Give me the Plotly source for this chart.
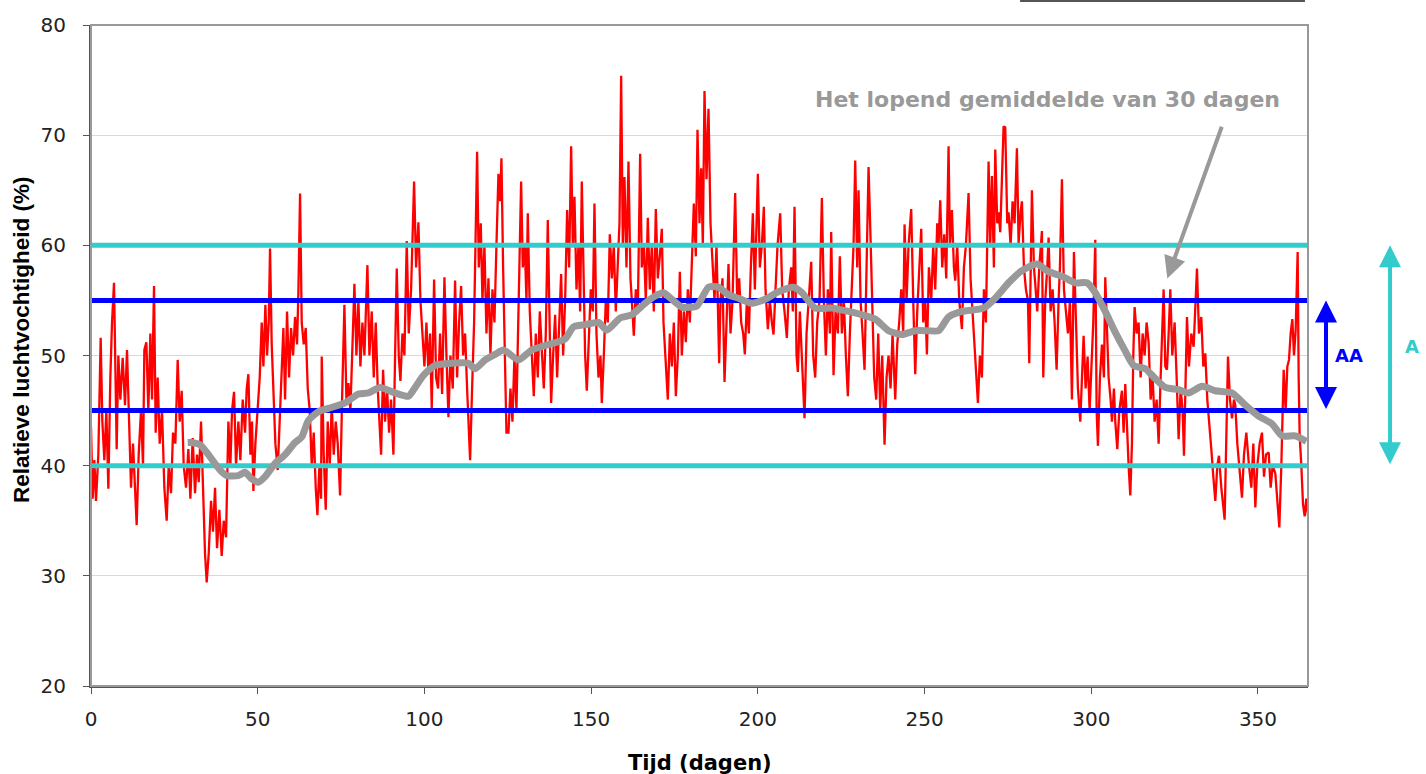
import plotly.graph_objects as go

# ---------------- data ----------------
red_days = [0, 0.5, 1, 1.5, 2.2, 2.9, 3.4, 4, 4.6, 5.2, 5.8, 6.3, 6.9, 7.3, 7.7, 8.2, 8.8, 9.5, 10.2, 10.8,
            11.4, 12, 12.6, 13.2, 13.7, 14.3, 15, 15.6, 16, 16.6, 17.2, 17.8, 18.3, 18.9, 19.4, 20, 20.6, 21.3,
            22, 22.7, 23.3, 24, 24.6, 25.3, 26, 26.6, 27.2, 27.8, 28.5, 29.2, 29.8, 30.5, 31.2, 31.8, 32.3, 33,
            33.6, 34.2, 34.7, 35.3, 36, 36.6, 37.2, 37.8, 38.5, 39.2, 39.8, 40.5, 41.2, 41.8, 42.3, 42.9, 43.5,
            44.2, 44.8, 45.5, 46.2, 46.7, 47.2, 47.8, 48.3, 48.7, 49.3, 50, 50.6, 51.2, 51.7, 52.3, 52.8, 53.3,
            53.7, 54.2, 54.8, 55.3, 56, 56.6, 57.2, 57.7, 58.2, 58.8, 59.4, 60, 60.6, 61.2, 61.8, 62.2, 62.7,
            63.2, 63.8, 64.4, 65, 65.6, 66.2, 66.8, 67.4, 67.9, 68.5, 69, 69.2, 69.8, 70.4, 71, 71.6, 72.2, 72.8,
            73.4, 74, 74.7, 75.3, 76, 76.6, 77.2, 77.8, 78.4, 79, 79.6, 80.2, 80.8, 81.4, 82, 82.9, 83.5, 84.2,
            84.8, 85.4, 86, 86.5, 87, 87.6, 88.2, 88.8, 89.4, 90, 90.7, 91.2, 91.7, 92.3, 92.8, 93.4, 94, 94.7,
            95.3, 96, 96.9, 97.5, 98.2, 98.8, 99.4, 100, 100.6, 101.2, 101.7, 102.2, 102.9, 103.5, 104.1, 104.7,
            105.3, 106, 106.6, 107.2, 107.8, 108.5, 109.2, 109.8, 110.4, 111, 111.6, 112.2, 112.8, 113.7, 114.3,
            114.9, 115.8, 116.3, 116.9, 117.4, 118, 118.6, 119.2, 119.8, 120.4, 121, 121.6, 122.2, 122.7, 123.1,
            123.6, 124.2, 124.6, 125.2, 125.8, 126.4, 127, 127.6, 128.2, 129, 129.5, 130.1, 130.6, 131, 131.6,
            132.2, 132.8, 133.4, 134, 134.6, 135.2, 135.8, 136.4, 137, 137.6, 138, 138.6, 139.2, 139.8, 140.4,
            141, 141.6, 142.2, 142.8, 143.4, 144, 144.5, 145, 145.6, 146.2, 146.7, 147.2, 147.8, 148.2, 148.7,
            149.3, 149.9, 150.5, 151, 151.6, 152.2, 152.8, 153.2, 153.8, 154.4, 155, 155.6, 156.2, 156.8, 157.4,
            158, 158.5, 159, 159.5, 160, 160.6, 161.2, 161.8, 162.2, 162.8, 163.4, 164, 164.7, 165.2, 165.8,
            166.4, 167, 167.6, 168.2, 168.8, 169.4, 170, 170.6, 171.2, 171.7, 172.2, 173, 173.6, 174.2, 174.8,
            175.4, 176, 176.6, 177.2, 177.8, 178.4, 179, 179.6, 180.2, 180.8, 181.4, 181.9, 182.5, 183, 183.5,
            184, 184.6, 185.2, 185.8, 186.4, 187, 187.6, 188.4, 188.8, 189.4, 190, 190.6, 191.2, 191.8, 192.4,
            193.2, 193.8, 194.4, 195, 195.6, 196.1, 196.7, 197.3, 197.9, 198.5, 199.1, 200, 200.6, 201.2, 201.8,
            202.3, 203, 203.6, 204.2, 204.7, 205.3, 205.9, 206.7, 207.3, 208, 208.7, 209.3, 210, 210.5, 211,
            211.6, 212, 212.6, 213.2, 214, 214.6, 215.2, 216, 216.6, 217.2, 217.8, 218.5, 219.2, 219.8, 220.4,
            221, 221.6, 222, 222.7, 223.3, 224, 224.6, 225.2, 225.8, 226.4, 227, 227.6, 228.2, 228.7, 229.2,
            229.8, 230.2, 230.8, 231.4, 232, 232.6, 233.2, 233.8, 234.3, 234.9, 235.5, 236.1, 236.7, 237.3, 238,
            238.6, 239.2, 239.8, 240.4, 241.2, 241.8, 242.4, 243, 243.6, 244, 244.6, 245.2, 246, 246.6, 247.2,
            247.8, 248.4, 249, 249.6, 250.2, 250.7, 251.3, 252, 252.6, 253.2, 253.8, 254.2, 254.7, 255.3, 255.9,
            256.5, 257.2, 257.6, 258.2, 258.8, 259.2, 259.8, 260.4, 261.2, 261.8, 262.4, 263.2, 263.8, 264.2,
            264.8, 265.4, 266, 266.6, 267.2, 267.8, 268.4, 269.2, 269.7, 270.2, 270.8, 271.2, 271.8, 272.2,
            272.7, 273.2, 273.7, 274.2, 274.8, 275.2, 275.8, 276.4, 277, 277.7, 278.2, 278.8, 279.2, 279.8,
            280.4, 281, 281.4, 282.2, 282.8, 283.2, 283.8, 284.4, 285.2, 285.6, 286.2, 286.8, 287.2, 287.8,
            288.4, 289, 289.6, 290.2, 290.6, 291.2, 291.8, 292.4, 293, 293.6, 294.2, 294.8, 295.4, 296, 296.7,
            297.2, 297.7, 298.3, 298.9, 299.5, 300.1, 300.6, 301.2, 301.6, 302, 302.6, 303.2, 303.8, 304.2,
            304.8, 305.2, 305.8, 306.2, 306.8, 307.2, 307.8, 308.4, 309.2, 309.7, 310.2, 310.8, 311.2, 311.7,
            312.2, 312.6, 313, 313.6, 314.2, 314.8, 315.4, 316, 316.6, 317.2, 317.8, 318.4, 319, 319.6, 320.2,
            320.8, 321.7, 322.2, 322.7, 323.2, 323.7, 324.3, 325, 325.6, 326.2, 326.8, 327.4, 327.8, 328.4,
            328.7, 329.3, 330, 330.7, 331.2, 331.7, 332.3, 333, 333.6, 334.2, 334.8, 335.4, 336, 336.6, 337.2,
            337.8, 338.3, 339, 340, 340.6, 341, 341.6, 342.2, 342.8, 343.2, 343.8, 344.4, 345.2, 345.8, 346.5,
            347.3, 348, 348.6, 349.2, 349.8, 350.5, 351.2, 351.8, 352.4, 353.2, 353.8, 354.4, 355.2, 355.8,
            356.4, 357, 357.7, 358.3, 358.8, 359.3, 359.8, 360.3, 360.8, 361.3, 361.9, 362.2, 362.5, 363, 363.5,
            364, 364.5, 365]
red_rh = [43.5, 37, 40.5, 36.8, 41, 51.6, 44, 40.5, 45, 37.9, 48, 53, 56.6, 47, 41.5, 50, 46, 49.8, 45.5, 50.5,
          44, 38, 42, 37, 34.6, 41, 45, 40, 50.5, 51.2, 45, 52, 46, 56.3, 43, 48, 42, 45,
          38, 35, 40, 37.5, 43, 42, 49.6, 44, 46.8, 40, 38, 41.5, 37, 42.5, 37.5, 41, 38.5, 44,
          37, 32, 29.4, 32, 36.8, 34, 38, 32.5, 36, 31.8, 35, 33.5, 44, 40, 45, 46.7, 40,
          44, 40.5, 46, 43, 47, 48.3, 41, 44, 37.7, 42, 45, 48, 53, 49, 54.6, 50, 53,
          59.7, 51, 45, 42, 39.6, 44, 50, 52.5, 46, 54, 48, 52.5, 50, 53.5, 51, 55.8, 64.7,
          53, 51, 52.5, 47, 45, 40, 43, 38, 35.5, 40, 37, 49.9, 41, 36, 44, 40, 45.5, 41,
          44, 42, 37.3, 46, 54.6, 46, 47.5, 45, 51, 56.5, 50, 55, 49, 53, 50, 58.2, 50, 54,
          48, 53, 47, 44, 41, 48.7, 44, 47, 43, 46, 41, 50, 57.9, 50, 47.7, 52, 50, 60.4,
          52, 56, 65.8, 58, 62.1, 55, 52, 49, 53, 48.5, 52, 45.2, 56.9, 48, 47, 52,
          46.5, 57.1, 50, 44.4, 50, 47, 56.8, 48, 53, 56.3, 50, 52, 47, 40.5, 47,
          53, 68.5, 58, 62, 55, 60, 52, 57, 50, 56, 53, 60, 66.5, 64, 67.9,
          58, 50, 43, 43, 47, 44, 50, 45, 54, 65.8, 58, 60, 55, 62.9, 54,
          50, 46.3, 52, 48, 54, 50, 47, 52, 62.3, 52, 45.7, 50, 53.7, 48, 52,
          57.4, 50, 55, 63.2, 58, 69, 60, 64.4, 56, 60, 54, 65.8, 55, 50, 46.8,
          52, 56, 54, 63.8, 52, 48, 50, 45.7, 50, 55, 53, 61, 57, 60, 54,
          58, 62, 75.4, 60, 66.2, 58, 67.6, 57, 55, 51.8, 56, 54, 68.3, 58, 60,
          55, 62.5, 56, 60, 54, 63.3, 57, 59, 61.5, 53, 50, 46, 52, 49, 53,
          46.3, 50, 57.6, 50, 54, 51.2, 56, 53, 58, 63.8, 59, 70.5, 62, 67, 60,
          74, 66, 72.4, 62, 58, 55, 60, 49.3, 55, 57, 47.6, 53, 58.3, 52, 55,
          64.75, 55, 57, 53, 52, 50.1, 55, 52, 58, 62.9, 56, 66.5, 58, 60, 63.5,
          56, 52.4, 55, 53, 51.9, 56, 60, 62.9, 56, 54, 51.6, 56, 58, 54, 63.5,
          50, 48.5, 54, 50, 44.3, 52, 55, 58.5, 50, 48, 53, 55, 64.3, 55, 50,
          56, 52, 61.2, 48.2, 54, 52, 59, 52, 55, 50, 46.3, 52, 56, 60, 67.7,
          58, 65, 55, 52, 48.7, 58, 67.1, 60.6, 55, 48, 46, 52, 45, 50, 41.9,
          48, 50, 47, 52, 46, 51, 53, 56, 52, 61.9, 55, 60, 63.3, 55, 48.3,
          54, 58, 61.5, 53, 55, 50.1, 58, 55, 60, 56, 62, 60, 64.1, 58, 61,
          57, 69, 59.9, 63.2, 58, 56.8, 60, 55, 52.4, 58, 60, 64.75, 57, 55,
          52, 48, 45.7, 50, 48, 56, 53, 67.6, 60, 66.3, 58, 68.7, 62, 63,
          61.2, 66, 70.8, 70.7, 62, 63, 60, 64, 62, 68.8, 60.2, 63, 64, 58,
          56, 55, 49.3, 65, 58, 56.5, 54, 58, 61.3, 48, 55, 58, 60.7, 54,
          56, 53, 48.7, 55, 58, 66, 56, 54, 52, 55, 46, 59.4, 52, 47, 44,
          48, 51.8, 47, 49.9, 45, 50, 53, 60.5, 45, 41.8, 48, 51, 48, 57.1,
          52, 48, 46, 44, 47, 44, 41.5, 45, 46.8, 43, 47.4, 42, 40, 37.3,
          42, 50, 54.4, 52, 53, 48, 52, 50, 53, 51.2, 46, 48, 44, 46, 42,
          48, 56, 49, 48.7, 52, 56, 50, 53, 48, 42.4, 47, 45, 40.9, 48,
          53.5, 49, 52, 50.8, 54, 57.9, 52, 53.5, 49, 50.2, 46, 44, 41.5, 39, 36.8,
          40, 40.9, 38, 35.1, 44, 49.9, 46, 44.3, 46, 45.5, 42, 40, 37.1, 41, 43,
          40, 38, 42, 36.2, 40, 42, 43, 39, 41, 41.2, 38, 40, 39.3, 37,
          34.4, 40, 48.7, 45, 49, 49.6, 52, 53.3, 50, 52.3, 59.4, 48, 42.7, 40, 36.5,
          35.4, 37, 35.5]

ma_days = [29, 30, 32.7, 35.7, 38.7, 40.7, 44.2, 46.2, 48.2, 50.2, 52.2, 55.2, 58.2, 61.2, 63.2, 65.2, 68.2,
           71.2, 76.2, 80.2, 83.2, 86.7, 91.2, 95.2, 97.2, 99.7, 103.2, 108.2, 113.2, 115.2, 118.2, 121.2,
           123.7, 128.2, 132.2, 137.2, 142.2, 144.7, 148.2, 152.2, 154.7, 158.7, 162.2, 166.2, 169.2, 171.7,
           174.2, 177.2, 181.7, 185.2, 188.2, 191.2, 194.2, 198.2, 202.2, 206.2, 210.7, 213.2, 217.2, 222.2,
           227.2, 231.2, 235.2, 239.2, 243.2, 247.2, 251.2, 254.2, 257.2, 261.2, 267.7, 271.2, 275.2, 279.2,
           283.7, 287.2, 291.2, 295.2, 298.7, 301.2, 304.2, 307.2, 310.2, 312.7, 316.2, 319.2, 322.2, 326.2,
           329.2, 333.2, 337.2, 342.2, 346.2, 350.2, 354.2, 357.2, 361.2, 364.5]
ma_rh = [42.1, 42.1, 41.9, 40.8, 39.6, 39.1, 39.1, 39.4, 38.8, 38.5, 39, 40.2, 41, 42.1, 42.6, 44.1, 44.9,
         45.2, 45.7, 46.5, 46.6, 47.1, 46.6, 46.3, 47.1, 48.2, 49.1, 49.3, 49.3, 48.8, 49.6, 50.1,
         50.5, 49.6, 50.5, 51, 51.5, 52.6, 52.8, 53, 52.3, 53.4, 53.7, 54.75, 55.4, 55.7,
         55.1, 54.4, 54.5, 56.2, 56.2, 55.5, 55.2, 54.75, 55.1, 55.8, 56.2, 55.7, 54.3, 54.3,
         54, 53.7, 53.3, 52.25, 51.9, 52.25, 52.25, 52.25, 53.5, 54, 54.3, 55.2, 56.6, 57.7,
         58.3, 57.6, 57.2, 56.6, 56.6, 55.7, 54, 52.1, 50.4, 49.1, 48.8, 47.9, 47.1, 46.9,
         46.6, 47.2, 46.8, 46.6, 45.5, 44.5, 43.8, 42.7, 42.7, 42.2]

band_a = [40, 60]     # A  (cyan)
band_aa = [45, 55]    # AA (blue)
x_range = [0, 365]
y_range = [20, 80]
x_ticks = [0, 50, 100, 150, 200, 250, 300, 350]
y_ticks = [20, 30, 40, 50, 60, 70, 80]

annot_text = "Het lopend gemiddelde van 30 dagen"
annot_pos = [286.8, 73.2]
annot_tail = [339.3, 70.9]
annot_tip = [322.8, 57.0]

RED = "#FF0000"
CYAN = "#33CCCC"
BLUE = "#0000FF"
GRAY = "#999999"
FONT = "DejaVu Sans"

fig = go.Figure()
fig.add_trace(go.Scatter(x=red_days, y=red_rh, mode="lines",
                         line=dict(color=RED, width=2.3), hoverinfo="skip"))
for v in band_a:
    fig.add_trace(go.Scatter(x=x_range, y=[v, v], mode="lines",
                             line=dict(color=CYAN, width=5), hoverinfo="skip"))
for v in band_aa:
    fig.add_trace(go.Scatter(x=x_range, y=[v, v], mode="lines",
                             line=dict(color=BLUE, width=5), hoverinfo="skip"))
fig.add_trace(go.Scatter(x=ma_days, y=ma_rh, mode="lines",
                         line=dict(color=GRAY, width=7, shape="spline", smoothing=0.6),
                         hoverinfo="skip"))

W, H = 1426, 774
L, R, T, B = 91, 118, 25, 88
plot_h = H - T - B
px_per_unit = plot_h / (y_range[1] - y_range[0])

annotations = [
    dict(x=annot_pos[0], y=annot_pos[1], xref="x", yref="y", text=annot_text, showarrow=False,
         font=dict(family=FONT, size=22, color=GRAY, weight="bold"), xanchor="center", yanchor="middle"),
    dict(x=annot_tip[0], y=annot_tip[1], xref="x", yref="y", ax=annot_tail[0], ay=annot_tail[1],
         axref="x", ayref="y", text="", showarrow=True, arrowhead=2, arrowsize=1.1,
         arrowwidth=4, arrowcolor=GRAY, standoff=0),
    # AA double arrow (blue)
    dict(x=1.0148, y=band_aa[1], xref="paper", yref="y", ax=0,
         ay=(band_aa[1] - band_aa[0]) * px_per_unit, text="", showarrow=True,
         arrowhead=2, arrowside="end+start", arrowsize=1.1, arrowwidth=4, arrowcolor=BLUE, standoff=0,
         startstandoff=0),
    dict(x=1.0205, y=(band_aa[0] + band_aa[1]) / 2, xref="paper", yref="y", text="<b>AA</b>",
         showarrow=False, font=dict(family=FONT, size=18, color=BLUE), xanchor="left", yanchor="middle"),
    # A double arrow (cyan)
    dict(x=1.0674, y=band_a[1], xref="paper", yref="y", ax=0,
         ay=(band_a[1] - band_a[0]) * px_per_unit, text="", showarrow=True,
         arrowhead=2, arrowside="end+start", arrowsize=1.1, arrowwidth=4, arrowcolor=CYAN, standoff=0,
         startstandoff=0),
    dict(x=1.078, y=(band_a[0] + band_a[1]) / 2 + 0.8, xref="paper", yref="y", text="<b>A</b>",
         showarrow=False, font=dict(family=FONT, size=18, color=CYAN), xanchor="left", yanchor="middle"),
    # axis titles
    dict(x=-0.057, y=0.523, xref="paper", yref="paper", text="<b>Relatieve luchtvochtigheid (%)</b>",
         showarrow=False, textangle=-90, font=dict(family="Liberation Sans", size=22.5, color="black"),
         xanchor="center", yanchor="middle"),
    dict(x=0.5, y=-0.1165, xref="paper", yref="paper", text="<b>Tijd (dagen)</b>",
         showarrow=False, font=dict(family=FONT, size=21, color="black"),
         xanchor="center", yanchor="middle"),
]

shapes = [
    dict(type="rect", xref="paper", yref="paper", x0=0, x1=1, y0=0, y1=1,
         line=dict(color="#999999", width=2), layer="above"),
    # partial box edge at the very top right
    dict(type="line", xref="paper", yref="paper", x0=0.7634, x1=0.9975, y0=1.0363, y1=1.0363,
         line=dict(color="#555555", width=2)),
]

fig.update_layout(
    width=W, height=H,
    margin=dict(l=L, r=R, t=T, b=B, autoexpand=False),
    paper_bgcolor="white", plot_bgcolor="white",
    showlegend=False,
    font=dict(family=FONT, size=20, color="#222222"),
    annotations=annotations,
    shapes=shapes,
    xaxis=dict(range=x_range, tickvals=x_ticks, showgrid=False, zeroline=False, automargin=False,
               showline=True, linecolor="#555555", linewidth=2,
               ticks="outside", ticklen=6, tickcolor="#555555", tickwidth=1, ticklabelstandoff=8,
               tickfont=dict(family=FONT, size=20, color="#222222")),
    yaxis=dict(range=y_range, tickvals=y_ticks, showgrid=True, gridcolor="#d9d9d9", gridwidth=1,
               zeroline=False, automargin=False, showline=True, linecolor="#555555", linewidth=2,
               ticks="outside", ticklen=6, tickcolor="#555555", tickwidth=1, ticklabelstandoff=13,
               tickfont=dict(family=FONT, size=20, color="#222222")),
)

# remove the default 8px page margin so the figure fills the window exactly
fig.write_html("out.html", config={"displayModeBar": False},
               post_script="document.body.style.margin='0';document.body.style.overflow='hidden';")
